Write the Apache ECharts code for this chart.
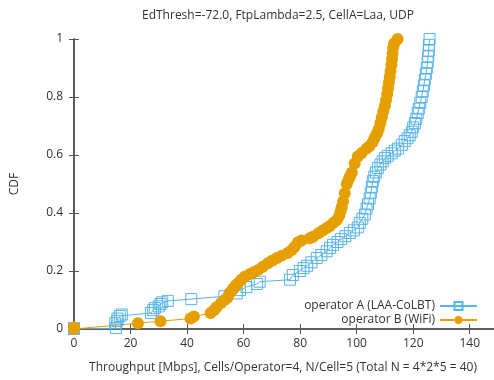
<!DOCTYPE html>
<html>
<head>
<meta charset="utf-8">
<script src="https://cdn.jsdelivr.net/npm/echarts@6/dist/echarts.min.js"></script>
<style>
  html, body { margin: 0; padding: 0; background: #fff; }
  #chart { width: 494px; height: 380px; }
</style>
</head>
<body>
<div id="chart"></div>
<script>
// CDF 数据：[吞吐量 Mbps, CDF]
const laaPoints = [
  [0, 0], [0, 0.003], [14.8, 0.003], [14.6, 0.02], [15.3, 0.028], [15.4, 0.036], [16.2, 0.045], [16.9, 0.05],
  [27.2, 0.055], [28, 0.065], [28.6, 0.072], [30, 0.078], [30.6, 0.086], [31.2, 0.092], [33.2, 0.097],
  [41.5, 0.103], [53.2, 0.113], [57.6, 0.123], [58.7, 0.134], [61, 0.145], [64.7, 0.155], [65.7, 0.163],
  [76.4, 0.17], [77.4, 0.186], [79.9, 0.2], [81.2, 0.21], [82.5, 0.218], [84, 0.23], [85.9, 0.245],
  [87.5, 0.255], [89.4, 0.268], [90.6, 0.28], [91.6, 0.29], [93.2, 0.3], [94.5, 0.31], [96, 0.32],
  [97.6, 0.331], [99, 0.34], [100.4, 0.35], [101.1, 0.366], [102, 0.38], [102.9, 0.395], [103.5, 0.415],
  [104, 0.43], [104.6, 0.45], [105, 0.47], [105.4, 0.49], [105.7, 0.51], [106.2, 0.525], [106.8, 0.54],
  [107.5, 0.555], [108.4, 0.567], [109.2, 0.578], [110, 0.59], [111, 0.597], [112.4, 0.606], [113.5, 0.615],
  [114.6, 0.622], [116, 0.635], [117, 0.648], [118, 0.658], [118.8, 0.668], [119.5, 0.68], [120, 0.695],
  [120.6, 0.71], [121.1, 0.725], [121.6, 0.745], [122, 0.76], [122.5, 0.78], [123, 0.8], [123.4, 0.82],
  [123.8, 0.84], [124.1, 0.86], [124.5, 0.88], [124.8, 0.9], [125.1, 0.92], [125.3, 0.94], [125.5, 0.96],
  [125.6, 0.98], [125.8, 1.0]
];

const wifiPoints = [
  [0, 0], [0, 0.005], [22.6, 0.02], [30.6, 0.027], [41.2, 0.036], [42.4, 0.043], [48.3, 0.055], [49.5, 0.065],
  [50.4, 0.075], [52, 0.09], [53.2, 0.1], [54.3, 0.108], [55, 0.123], [55.8, 0.132], [56.3, 0.14], [57.2, 0.15],
  [58, 0.158], [59.2, 0.17], [60.4, 0.18], [62.2, 0.19], [63.5, 0.196], [65, 0.203], [66.8, 0.215], [68.6, 0.227],
  [70.2, 0.236], [71.8, 0.245], [73.5, 0.253], [75.6, 0.262], [77, 0.272], [78, 0.283], [79.2, 0.298],
  [80.5, 0.305], [83.4, 0.313], [84.6, 0.318], [86.5, 0.33], [88, 0.34], [89.4, 0.348], [90.5, 0.355],
  [91.8, 0.366], [93, 0.376], [93.8, 0.39], [94.3, 0.405], [94.7, 0.42], [95.2, 0.44], [95.8, 0.468],
  [96.5, 0.5], [97.1, 0.515], [97.6, 0.525], [98.3, 0.54], [99.3, 0.571], [100.4, 0.595], [101.8, 0.607],
  [103.5, 0.622], [104.5, 0.63], [105.7, 0.645], [106.4, 0.66], [107.2, 0.675], [107.8, 0.69], [108.4, 0.71],
  [108.9, 0.73], [109.4, 0.75], [110, 0.77], [110.4, 0.79], [110.8, 0.81], [111.1, 0.83], [111.4, 0.85],
  [111.7, 0.87], [112, 0.89], [112.3, 0.91], [112.5, 0.93], [112.7, 0.95], [112.9, 0.97], [113.3, 0.985],
  [114.5, 1.0]
];

const seriesNames = ['operator A (LAA-CoLBT)', 'operator B (WiFi)'];
const xTicks = [0, 20, 40, 60, 80, 100, 120, 140];
const yTicks = [0, 0.2, 0.4, 0.6, 0.8, 1];

const FONT = '"Open Sans", sans-serif';
const AXIS_COLOR = '#555';
const TEXT_COLOR = '#333';

const chart = echarts.init(document.getElementById('chart'));

const tickStyle = { inside: true, length: 5, lineStyle: { color: AXIS_COLOR } };

const option = {
  animation: false,
  title: {
    text: 'EdThresh=-72.0, FtpLambda=2.5, CellA=Laa, UDP',
    left: 137,
    top: 5,
    textStyle: { fontFamily: FONT, fontSize: 12, fontWeight: 'normal', color: TEXT_COLOR }
  },
  grid: { left: 74, top: 39, width: 424, bottom: 51, containLabel: false, outerBoundsMode: 'none' },
  legend: {
    orient: 'vertical',
    align: 'right',
    right: 11,
    top: 295,
    itemWidth: 37,
    itemHeight: 10,
    itemGap: 2,
    textStyle: { fontFamily: FONT, fontSize: 12, color: TEXT_COLOR },
    data: seriesNames
  },
  xAxis: [
    {
      type: 'value',
      min: 0, max: 150, interval: 20,
      name: 'Throughput [Mbps], Cells/Operator=4, N/Cell=5 (Total N = 4*2*5 = 40)',
      nameLocation: 'middle',
      nameGap: 33,
      nameTextStyle: { fontFamily: FONT, fontSize: 12, color: TEXT_COLOR, padding: [0, 6, 0, 0] },
      axisLine: { lineStyle: { color: AXIS_COLOR, width: 1.5 } },
      axisTick: tickStyle,
      splitLine: { show: false },
      axisLabel: {
        fontFamily: FONT, fontSize: 12, color: TEXT_COLOR, margin: 9,
        formatter: v => (xTicks.includes(v) ? String(v) : '')
      }
    },
    {
      type: 'value', position: 'top',
      min: 0, max: 150, interval: 20,
      axisLine: { lineStyle: { color: AXIS_COLOR, width: 1.5 } },
      axisTick: tickStyle,
      axisLabel: { show: false },
      splitLine: { show: false }
    }
  ],
  yAxis: [
    {
      type: 'value',
      min: 0, max: 1, interval: 0.2,
      name: 'CDF',
      nameLocation: 'middle',
      nameGap: 53,
      nameRotate: 90,
      nameTextStyle: { fontFamily: FONT, fontSize: 12, color: TEXT_COLOR },
      axisLine: { lineStyle: { color: AXIS_COLOR, width: 1.5 } },
      axisTick: tickStyle,
      splitLine: { show: false },
      axisLabel: {
        fontFamily: FONT, fontSize: 12, color: TEXT_COLOR, margin: 11,
        formatter: v => (yTicks.some(t => Math.abs(t - v) < 1e-9) ? String(+v.toFixed(1)) : '')
      }
    },
    {
      type: 'value', position: 'right',
      min: 0, max: 1, interval: 0.2,
      axisLine: { lineStyle: { color: AXIS_COLOR, width: 1.5 } },
      axisTick: tickStyle,
      axisLabel: { show: false },
      splitLine: { show: false }
    }
  ],
  series: [
    {
      name: seriesNames[0],
      type: 'line',
      data: laaPoints,
      symbol: 'rect',
      symbolSize: 11,
      lineStyle: { color: '#56b4e9', width: 1 },
      itemStyle: { color: 'rgba(255,255,255,0)', borderColor: '#56b4e9', borderWidth: 1 }
    },
    {
      name: seriesNames[1],
      type: 'line',
      data: wifiPoints,
      symbol: 'circle',
      symbolSize: 12,
      lineStyle: { color: '#e69f00', width: 1 },
      itemStyle: { color: '#e69f00' }
    }
  ]
};

chart.setOption(option);
</script>
</body>
</html>
